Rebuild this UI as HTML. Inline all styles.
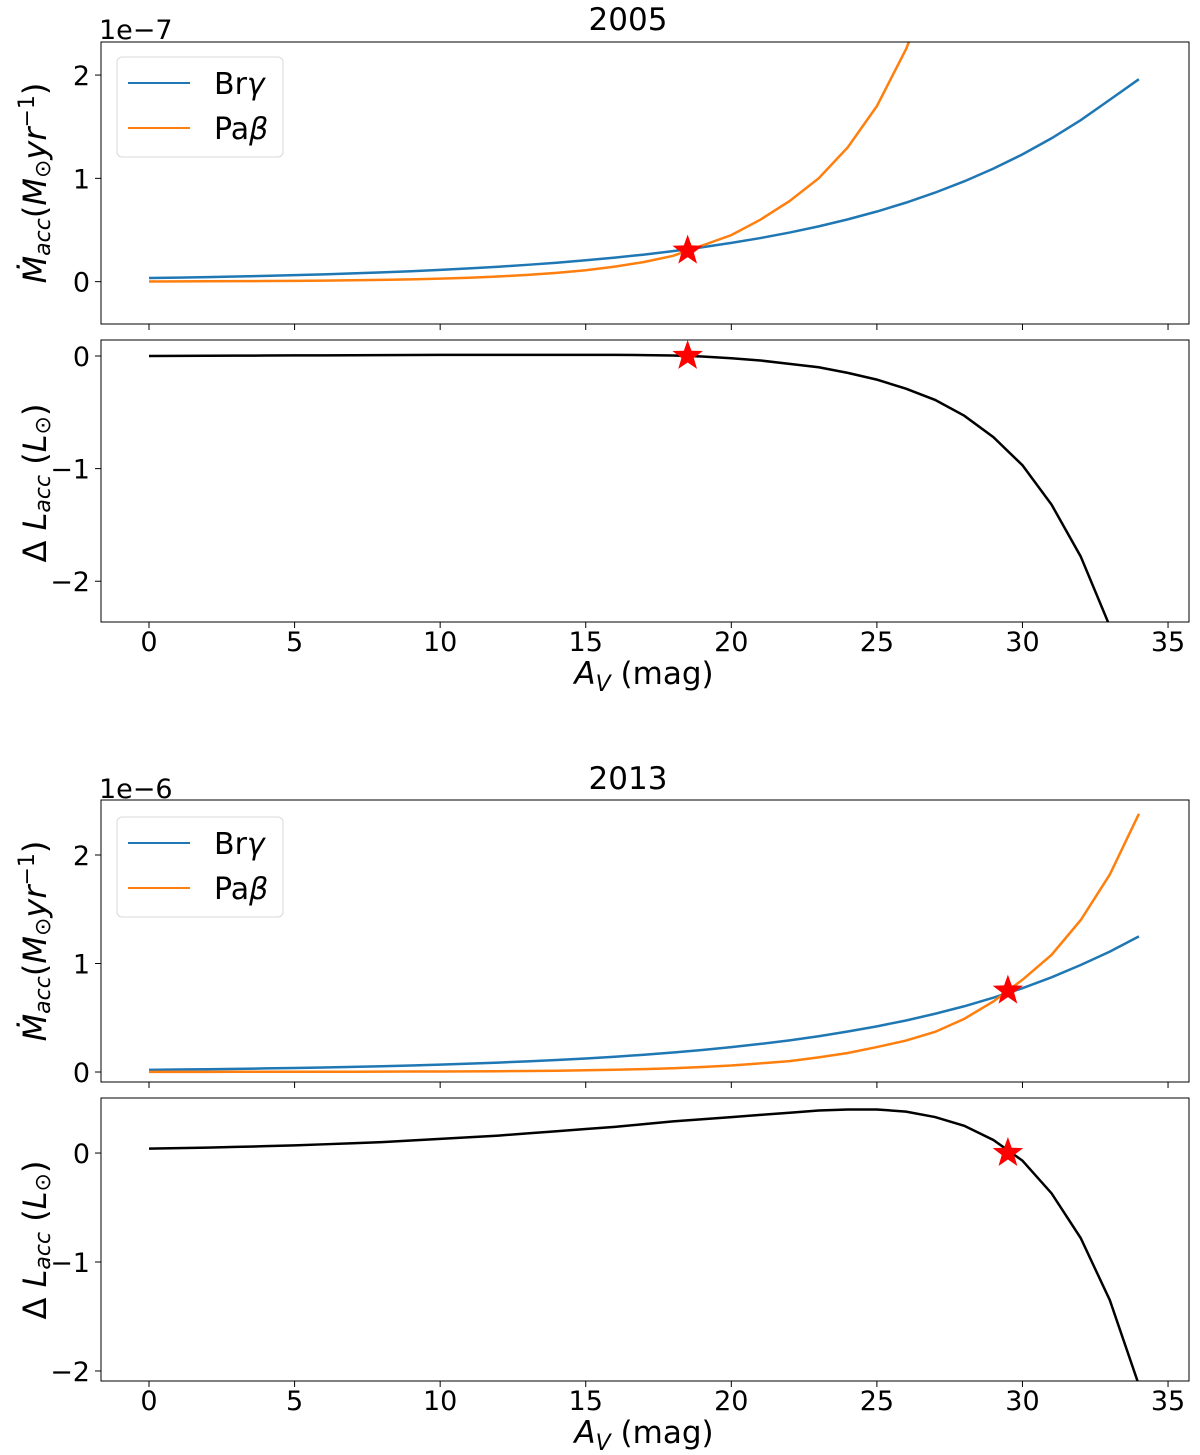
<!DOCTYPE html>
<html><head><meta charset="utf-8"><style>
body{margin:0;background:#fff;}
svg{display:block;font-family:"DejaVu Sans","Liberation Sans",sans-serif;}
</style></head><body>
<svg id="fig" width="1200" height="1455" viewBox="0 0 1200 1455" xmlns="http://www.w3.org/2000/svg"></svg>
<script>
const avs = Array.from({length:35},(_,i)=>i);
const bry2005 = [0.035,0.039,0.044,0.050,0.056,0.063,0.071,0.080,0.090,0.101,0.114,0.128,0.144,0.163,0.183,0.207,0.233,0.262,0.295,0.333,0.375,0.422,0.475,0.535,0.603,0.679,0.765,0.862,0.971,1.094,1.232,1.388,1.563,1.761,1.96];
const pab2005 = [0.002,0.003,0.004,0.005,0.006,0.008,0.010,0.013,0.017,0.022,0.029,0.038,0.050,0.065,0.085,0.110,0.145,0.190,0.250,0.350,0.450,0.600,0.780,1.00,1.30,1.70,2.25,2.95,3.85,5.0,6.5,8.5,11,14.3,18.6];
const dl2005 = [0,0.001,0.002,0.003,0.004,0.005,0.006,0.007,0.008,0.009,0.010,0.010,0.010,0.010,0.010,0.010,0.010,0.008,0.004,-0.005,-0.02,-0.04,-0.07,-0.10,-0.15,-0.21,-0.29,-0.39,-0.53,-0.72,-0.97,-1.32,-1.78,-2.4,-3.2];
const bry2013 = [0.020,0.023,0.026,0.029,0.033,0.037,0.042,0.047,0.053,0.060,0.068,0.077,0.087,0.098,0.111,0.125,0.141,0.159,0.180,0.203,0.229,0.259,0.292,0.330,0.373,0.421,0.475,0.537,0.606,0.685,0.773,0.873,0.986,1.11,1.25];
const pab2013 = [0.001,0.001,0.001,0.002,0.002,0.002,0.003,0.003,0.004,0.005,0.005,0.006,0.007,0.009,0.012,0.016,0.021,0.027,0.035,0.046,0.060,0.080,0.100,0.135,0.175,0.23,0.29,0.37,0.49,0.65,0.85,1.08,1.40,1.82,2.38];
const dl2013 = [0.04,0.045,0.05,0.056,0.063,0.07,0.08,0.09,0.10,0.115,0.13,0.145,0.16,0.18,0.20,0.22,0.24,0.265,0.29,0.31,0.33,0.35,0.37,0.39,0.40,0.40,0.38,0.33,0.25,0.12,-0.07,-0.37,-0.78,-1.35,-2.13];
const xTicks = [0,5,10,15,20,25,30,35];
const stars = [{x:18.5,y:0.3},{x:18.5,y:0},{x:29.5,y:0.75},{x:29.5,y:0}];

const svg=document.getElementById('fig');
const NS='http://www.w3.org/2000/svg';
function mk(tag,attrs,parent){const e=document.createElementNS(NS,tag);for(const k in attrs)e.setAttribute(k,attrs[k]);(parent||svg).appendChild(e);return e;}
const X0=101,X1=1189,XMIN=-1.649,XMAX=35.72;
const sx=v=>X0+(v-XMIN)/(XMAX-XMIN)*(X1-X0);
let clipId=0;
function panel(name,top,bot,ymin,ymax,yticks,series,star,showX){
  const sy=v=>bot-(v-ymin)/(ymax-ymin)*(bot-top);
  const g=mk('g',{});
  
  
  const cid='c'+(clipId++);
  const cp=mk('clipPath',{id:cid},g);mk('rect',{x:X0,y:top,width:X1-X0,height:bot-top},cp);
  series.forEach(s=>{
    const p=mk('polyline',{points:avs.map((a,i)=>sx(a)+','+sy(s.v[i])).join(' '),fill:'none',stroke:s.c,'stroke-width':2.5,'clip-path':`url(#${cid})`},g);
    
    
  });
  const cx=sx(star.x),cy=sy(star.y),R=16,r=6.5;let pts=[];
  for(let k=0;k<10;k++){const rr=k%2?r:R;const a=-Math.PI/2+k*Math.PI/5;pts.push((cx+rr*Math.cos(a))+','+(cy+rr*Math.sin(a)));}
  const st=mk('polygon',{points:pts.join(' '),fill:'#ff0000'},g);
  
  
  mk('rect',{x:X0,y:top,width:X1-X0,height:bot-top,fill:'none',stroke:'#000','stroke-width':1},g);
  yticks.forEach(t=>{
    mk('line',{x1:X0-6,x2:X0,y1:sy(t),y2:sy(t),stroke:'#000','stroke-width':1},g);
    const tx=mk('text',{x:X0-11,y:sy(t)+10,'font-size':27,'text-anchor':'end'},g);
    tx.textContent=t<0?'\u2212'+(-t):String(t);
    
    
  });
  xTicks.forEach(t=>{
    mk('line',{x1:sx(t),x2:sx(t),y1:bot,y2:bot+6,stroke:'#000','stroke-width':1},g);
    if(showX){const tx=mk('text',{x:sx(t),y:bot+29,'font-size':27,'text-anchor':'middle'},g);tx.textContent=t;
      
      }
  });
  return sy;
}
function legend(top){
  const g=mk('g',{});
  
  
  mk('rect',{x:117,y:top,width:166,height:100,rx:5,fill:'#fff',stroke:'#d8d8d8'},g);
  [['Br','γ','#1f77b4',top+26],['Pa','β','#ff7f0e',top+71]].forEach(e=>{
    mk('line',{x1:128,x2:190,y1:e[3],y2:e[3],stroke:e[2],'stroke-width':2},g);
    const t=mk('text',{x:214,y:e[3]+11,'font-size':30},g);
    t.innerHTML=e[0]+'<tspan font-style="italic">'+e[1]+'</tspan>';
    
    
  });
}
function txt(x,y,s,size,name,extra){const t=mk('text',Object.assign({x:x,y:y,'font-size':size},extra||{}));t.innerHTML=s;
  
  return t;}
const mlab='<tspan font-style="italic">Ṁ</tspan><tspan font-style="italic" font-size="22" dy="4">acc</tspan><tspan dy="-4">(</tspan><tspan font-style="italic">M</tspan><tspan font-size="22" dy="4">⊙</tspan><tspan font-style="italic" dy="-4">yr</tspan><tspan font-size="22" dy="-12">−1</tspan><tspan dy="12">)</tspan>';
const llab='Δ <tspan font-style="italic">L</tspan><tspan font-style="italic" font-size="22" dy="4">acc</tspan><tspan dy="-4"> (</tspan><tspan font-style="italic">L</tspan><tspan font-size="22" dy="4">⊙</tspan><tspan dy="-4">)</tspan>';
const xlab='<tspan font-style="italic">A</tspan><tspan font-style="italic" font-size="22" dy="7">V</tspan><tspan dy="-7"> (mag)</tspan>';
const YL=46;

txt(628,30,'2005',31,'title-2005',{'text-anchor':'middle'});
txt(99,39,'1e−7',27,'y-scale-2005');
panel('mdot-2005-panel',42,324,-0.41,2.32,[0,1,2],[{n:'bry-2005-line',v:bry2005,c:'#1f77b4'},{n:'pab-2005-line',v:pab2005,c:'#ff7f0e'}],stars[0],false);
legend(57);
txt(0,0,mlab,32,'y-axis-title',{transform:`translate(${YL},183) rotate(-90)`,'text-anchor':'middle'});
panel('dl-2005-panel',340,622,-2.362,0.142,[-2,-1,0],[{n:'dl-2005-line',v:dl2005,c:'#000'}],stars[1],true);
txt(0,0,llab,32,'y-axis-title',{transform:`translate(${YL},483) rotate(-90)`,'text-anchor':'middle'});
txt(644,684,xlab,31,'x-axis-title',{'text-anchor':'middle'});

txt(628,789,'2013',31,'title-2013',{'text-anchor':'middle'});
txt(99,798,'1e−6',27,'y-scale-2013');
panel('mdot-2013-panel',800,1082,-0.092,2.507,[0,1,2],[{n:'bry-2013-line',v:bry2013,c:'#1f77b4'},{n:'pab-2013-line',v:pab2013,c:'#ff7f0e'}],stars[2],false);
legend(817);
txt(0,0,mlab,32,'y-axis-title',{transform:`translate(${YL},941) rotate(-90)`,'text-anchor':'middle'});
panel('dl-2013-panel',1098,1381,-2.092,0.505,[-2,-1,0],[{n:'dl-2013-line',v:dl2013,c:'#000'}],stars[3],true);
txt(0,0,llab,32,'y-axis-title',{transform:`translate(${YL},1240) rotate(-90)`,'text-anchor':'middle'});
txt(644,1443,xlab,31,'x-axis-title',{'text-anchor':'middle'});
</script>
</body></html>
